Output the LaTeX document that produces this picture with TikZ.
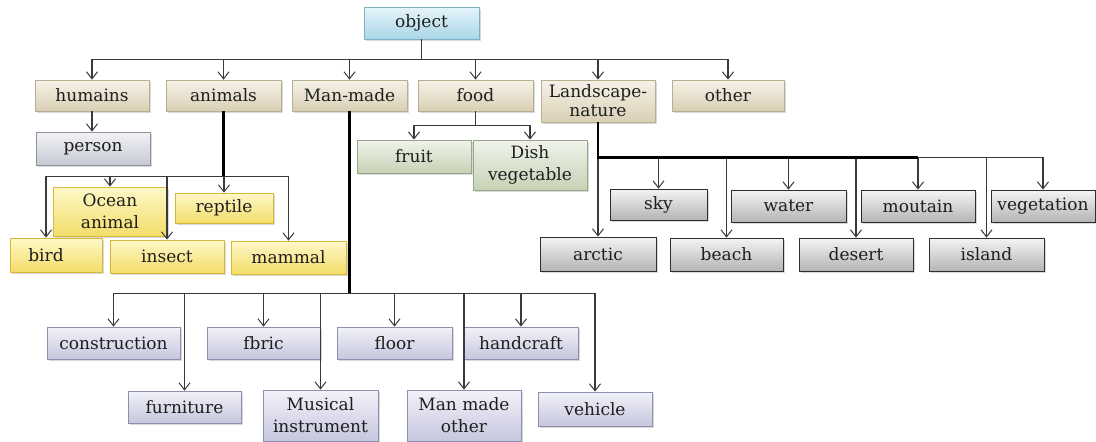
\documentclass[tikz,border=0pt]{standalone}
\usepackage{fontspec}
\setmainfont{DejaVu Serif}
\newfontfamily\boxfont{DejaVu Serif}
\usetikzlibrary{arrows.meta,shadows}
\definecolor{conncol}{HTML}{3A3A3A}
\definecolor{txt}{HTML}{1E1E1E}
\definecolor{objD}{HTML}{7FB0C6}\definecolor{objT}{HTML}{E6F4FA}\definecolor{objB}{HTML}{A9D6E8}
\definecolor{catD}{HTML}{B9AE92}\definecolor{catT}{HTML}{F6F2E8}\definecolor{catB}{HTML}{D9CFB5}
\definecolor{perD}{HTML}{8C919E}\definecolor{perT}{HTML}{F2F3F6}\definecolor{perB}{HTML}{C5C9D3}
\definecolor{aniD}{HTML}{D8B83A}\definecolor{aniT}{HTML}{FEF8C8}\definecolor{aniB}{HTML}{F3DD6A}
\definecolor{fooD}{HTML}{98A68A}\definecolor{fooT}{HTML}{F0F3EA}\definecolor{fooB}{HTML}{C6D2B6}
\definecolor{lanD}{HTML}{2E2E2E}\definecolor{lanT}{HTML}{F4F4F4}\definecolor{lanB}{HTML}{B4B4B4}
\definecolor{manD}{HTML}{8E8EAE}\definecolor{manT}{HTML}{F2F2FA}\definecolor{manB}{HTML}{C6C6DE}
\tikzset{
  bx/.style={draw, line width=0.8pt, inner sep=1pt, align=center, text=txt,
    font=\boxfont\fontsize{17}{22}\selectfont,
    drop shadow={shadow xshift=1.5pt,shadow yshift=-2pt,opacity=0.3}},
  objbox/.style={bx, draw=objD, top color=objT, bottom color=objB},
  catbox/.style={bx, draw=catD, top color=catT, bottom color=catB},
  perbox/.style={bx, draw=perD, top color=perT, bottom color=perB},
  anibox/.style={bx, draw=aniD, top color=aniT, bottom color=aniB},
  foodbox/.style={bx, draw=fooD, top color=fooT, bottom color=fooB},
  landbox/.style={bx, draw=lanD, top color=lanT, bottom color=lanB},
  manbox/.style={bx, draw=manD, top color=manT, bottom color=manB},
  ln/.style={draw=conncol, line width=1.2pt},
  thk/.style={draw=black, line width=2.6pt},
  arr/.style={ln, -{Straight Barb[length=7pt,width=11pt,line width=1pt]}},
}
\newcommand\mkbox[7]{\node[#1, minimum width={#5-#3}, minimum height={#6-#4}] (#2) at ({(#3+#5)/2},{(#4+#6)/2}) {#7};}
\begin{document}
\begin{tikzpicture}[x=1pt,y=-1pt]
\useasboundingbox (0,0) rectangle (1096,442);
% level 0 and 1
\mkbox{objbox}{object}{364}{7}{479}{39}{object}
\mkbox{catbox}{humains}{35}{80}{149}{111}{humains}
\mkbox{catbox}{animals}{166}{80}{281}{111}{animals}
\mkbox{catbox}{manmade}{292}{80}{407}{111}{Man-made}
\mkbox{catbox}{food}{418}{80}{533}{111}{food}
\mkbox{catbox}{land}{541}{80}{655}{122}{Landscape-\\[-3pt]nature}
\mkbox{catbox}{other}{672}{80}{784}{111}{other}
% humains
\mkbox{perbox}{person}{36}{132}{150}{165}{person}
% animals
\mkbox{anibox}{ocean}{53}{187}{167}{236}{Ocean\\animal}
\mkbox{anibox}{reptile}{175}{193}{273}{223}{reptile}
\mkbox{anibox}{bird}{10}{238}{102}{272}{bird\hspace{20pt}}
\mkbox{anibox}{insect}{110}{240}{224}{273}{insect}
\mkbox{anibox}{mammal}{231}{241}{346}{274}{mammal}
% food
\mkbox{foodbox}{fruit}{357}{140}{471}{173}{fruit}
\mkbox{foodbox}{dish}{473}{140}{587}{190}{Dish\\vegetable}
% landscape
\mkbox{landbox}{sky}{610}{189}{707}{220}{sky}
\mkbox{landbox}{water}{731}{190}{846}{222}{water}
\mkbox{landbox}{moutain}{861}{190}{975}{222}{moutain}
\mkbox{landbox}{vegetation}{991}{190}{1095}{222}{vegetation}
\mkbox{landbox}{arctic}{540}{237}{656}{271}{arctic}
\mkbox{landbox}{beach}{670}{238}{783}{271}{beach}
\mkbox{landbox}{desert}{799}{238}{913}{271}{desert}
\mkbox{landbox}{island}{929}{238}{1044}{271}{island}
% man-made
\mkbox{manbox}{construction}{47}{327}{180}{359}{construction}
\mkbox{manbox}{fbric}{207}{327}{320}{359}{fbric}
\mkbox{manbox}{floor}{337}{327}{452}{359}{floor}
\mkbox{manbox}{handcraft}{464}{327}{578}{359}{handcraft}
\mkbox{manbox}{furniture}{128}{391}{241}{423}{furniture}
\mkbox{manbox}{musical}{263}{390}{378}{441}{Musical\\instrument}
\mkbox{manbox}{mmother}{407}{390}{521}{441}{Man made\\other}
\mkbox{manbox}{vehicle}{538}{392}{652}{426}{vehicle}
% connectors: object
\coordinate (ob) at ([yshift=-20pt]object.south);
\draw[ln] (object.south) -- (ob);
\foreach \n in {humains,animals,manmade,food,land,other} \draw[arr] (ob) -| (\n.north);
% humains
\draw[arr] (humains.south) -- (humains.south |- person.north);
% animals
\coordinate (ab) at ([yshift=-65pt]animals.south);
\draw[arr] (ab) -| ([xshift=-10pt]bird.north);
\foreach \n in {ocean,insect,reptile,mammal} \draw[arr] (ab) -| (\n.north);
\draw[thk] (animals.south) -- (ab);
% food
\coordinate (fb) at ([yshift=-14pt]food.south);
\draw[ln] (food.south) -- (fb);
\foreach \n in {fruit,dish} \draw[arr] (fb) -| (\n.north);
% landscape
\coordinate (lb) at ([yshift=-35pt]land.south);
\foreach \n in {sky,water,moutain,vegetation,beach,desert,island} \draw[arr] (lb) -| (\n.north);
\draw[arr] (lb) -- (lb |- arctic.north);
\draw[thk] (land.south) -- (lb) -- (lb -| moutain.north);
% man-made
\coordinate (mb) at ([yshift=-182pt]manmade.south);
\foreach \n in {construction,furniture,fbric,musical,floor,mmother,handcraft,vehicle} \draw[arr] (mb) -| (\n.north);
\draw[thk] (manmade.south) -- (mb);
\end{tikzpicture}
\end{document}
